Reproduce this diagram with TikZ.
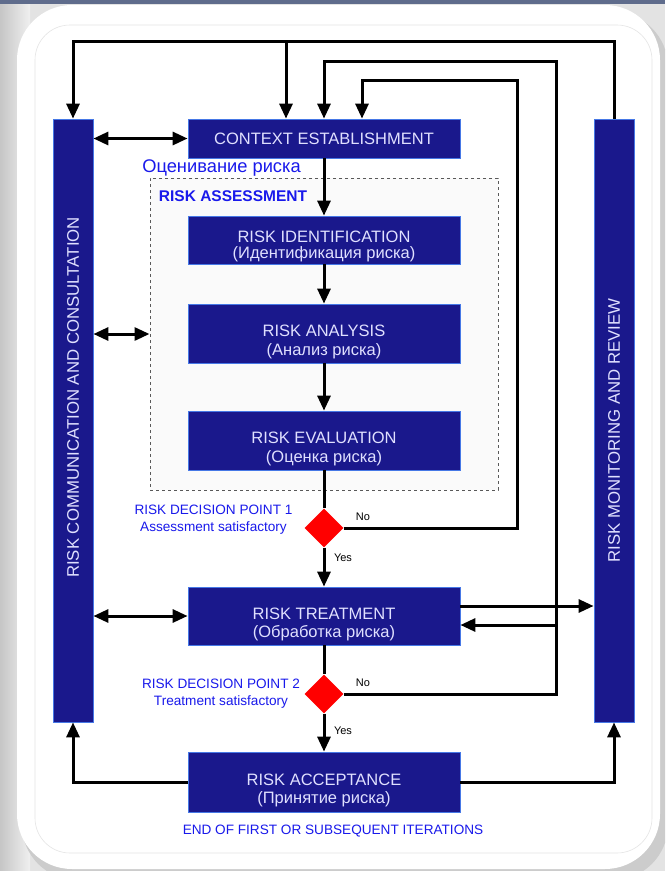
\documentclass[tikz,border=0pt]{standalone}
\usepackage{fontspec}
\setmainfont{Liberation Sans}
\usetikzlibrary{arrows.meta,shapes.geometric}

\definecolor{boxblue}{RGB}{26,24,140}
\definecolor{boxedge}{RGB}{70,120,230}
\definecolor{labelblue}{RGB}{25,25,235}
\definecolor{topstrip}{RGB}{95,108,140}

\newcommand{\dropline}[1][28pt]{\rule{0pt}{#1}}

\tikzset{
  stage/.style={draw=boxedge, line width=0.8pt, fill=boxblue, text=white!88!blue,
    minimum width=272pt, inner sep=0pt, align=center,
    font=\fontsize{16.5}{16.5}\selectfont},
  twoline/.style={stage, font=\fontsize{16.5}{18.5}\selectfont},
  sidebar/.style={draw=boxedge, line width=0.8pt, fill=boxblue,
    minimum width=40pt, minimum height=603pt, inner sep=0pt},
  sidetext/.style={text=white!88!blue, font=\fontsize{16.8}{17}\selectfont},
  decision/.style={diamond, fill=red, minimum width=39pt, minimum height=39pt, inner sep=0pt},
  flow/.style={line width=3pt, -{Triangle[length=15pt,width=13pt]}},
  both/.style={line width=3pt, {Triangle[length=15pt,width=13pt]}-{Triangle[length=15pt,width=13pt]}},
  plain/.style={line width=3pt},
  note/.style={text=labelblue, align=center, font=\fontsize{13.6}{17}\selectfont},
  answer/.style={font=\fontsize{11}{12}\selectfont}
}

\begin{document}
\begin{tikzpicture}[x=1pt,y=-1pt]
\useasboundingbox (0,0) rectangle (665,871);
\clip (0,0) rectangle (665,871);

% frame
\fill[gray!22] (0,0) rectangle (665,871);
\shade[left color=gray!45, right color=gray!12] (0,0) rectangle (30,871);
\fill[gray!40, rounded corners=55pt] (22,12) rectangle (668,880);
\fill[white, rounded corners=55pt] (17,5) rectangle (660,869);
\draw[gray!20, line width=0.6pt, rounded corners=35pt] (35,25) rectangle (652,853);
\fill[topstrip] (0,0) rectangle (665,4);

% side bars
\node[sidebar, label={[sidetext, rotate=90, xshift=23pt]center:RISK COMMUNICATION AND CONSULTATION}] (lbar) at (73,420.5) {};
\node[sidebar, label={[sidetext, rotate=90, xshift=-10pt]center:RISK MONITORING AND REVIEW}] (rbar) at (614,420.5) {};

% risk assessment frame
\node[draw=gray!70!black, dashed, line width=1pt, fill=gray!4, minimum width=348pt, minimum height=312pt] (assess) at (324,334) {};
\node[text=labelblue, font=\fontsize{18.3}{19}\selectfont] (assessru) at (221.5,168) {Оценивание риска};
\node[text=labelblue, font=\bfseries\fontsize{15.5}{16}\selectfont] (assessen) at (233,196) {RISK ASSESSMENT};

% stages
\node[stage, minimum height=39pt] (ctx) at (324,138.5) {CONTEXT ESTABLISHMENT};
\node[twoline, font=\fontsize{16.5}{15.5}\selectfont, minimum height=48pt] (ident) at (324,240) {\dropline[24pt]RISK IDENTIFICATION\\(Идентификация риска)};
\node[twoline, minimum height=59pt] (anal) at (324,333.5) {\dropline RISK ANALYSIS\\(Анализ риска)};
\node[twoline, minimum height=59pt] (eval) at (324,440.5) {\dropline RISK EVALUATION\\(Оценка риска)};
\node[twoline, minimum height=58pt] (treat) at (324,616) {\dropline RISK TREATMENT\\(Обработка риска)};
\node[twoline, minimum height=60pt] (accept) at (324,782) {\dropline RISK ACCEPTANCE\\(Принятие риска)};

% decisions
\node[decision] (dec1) at (324,528) {};
\node[decision] (dec2) at (324,694) {};
\node[note] (dp1) at (213.5,519.5) {RISK DECISION POINT 1\\Assessment satisfactory};
\node[note] (dp2) at (221,693.5) {RISK DECISION POINT 2\\Treatment satisfactory};
\node[answer] (no1) at (363,517) {No};
\node[answer] (yes1) at (343,558) {Yes};
\node[answer] (no2) at (363,683) {No};
\node[answer] (yes2) at (343,731) {Yes};
\node[note] (endnote) at (333,831) {END OF FIRST OR SUBSEQUENT ITERATIONS};

% main flow
\draw[flow] (ctx.south) -- (ident.north);
\draw[flow] (ident.south) -- (anal.north);
\draw[flow] (anal.south) -- (eval.north);
\draw[plain] (eval.south) -- (dec1.north);
\draw[flow] (dec1.south) -- (treat.north);
\draw[plain] (treat.south) -- (dec2.north);
\draw[flow] (dec2.south) -- (accept.north);

% communication links
\draw[both] (lbar.east |- ctx.west) -- (ctx.west);
\draw[both] (lbar.east |- assess.west) -- (assess.west);
\draw[both] (lbar.east |- treat.west) -- (treat.west);

% monitoring loop
\coordinate (top0) at (286,41);
\draw[flow] (rbar.north) -- (rbar.north |- top0) -- (lbar.north |- top0) -- (lbar.north);
\draw[flow] (top0) -- (top0 |- ctx.north);

% iteration loops
\coordinate (loopa) at (556,61);
\coordinate (loopb) at (517,80);
\coordinate (enterb) at (362,80);
\draw[flow] (dec2.east) -- (dec2.east -| loopa) -- (loopa) -- (loopa -| ctx.north) -- (ctx.north);
\draw[flow] (dec1.east) -- (dec1.east -| loopb) -- (loopb) -- (enterb) -- (enterb |- ctx.north);
\draw[flow] ([yshift=-9pt]treat.east -| loopa) -- ([yshift=-9pt]treat.east);
\draw[flow] ([yshift=10pt]treat.east) -- ([yshift=10pt]treat.east -| rbar.west);

% end of iteration
\draw[flow] (accept.west) -| (lbar.south);
\draw[flow] (accept.east) -| (rbar.south);
\end{tikzpicture}
\end{document}
